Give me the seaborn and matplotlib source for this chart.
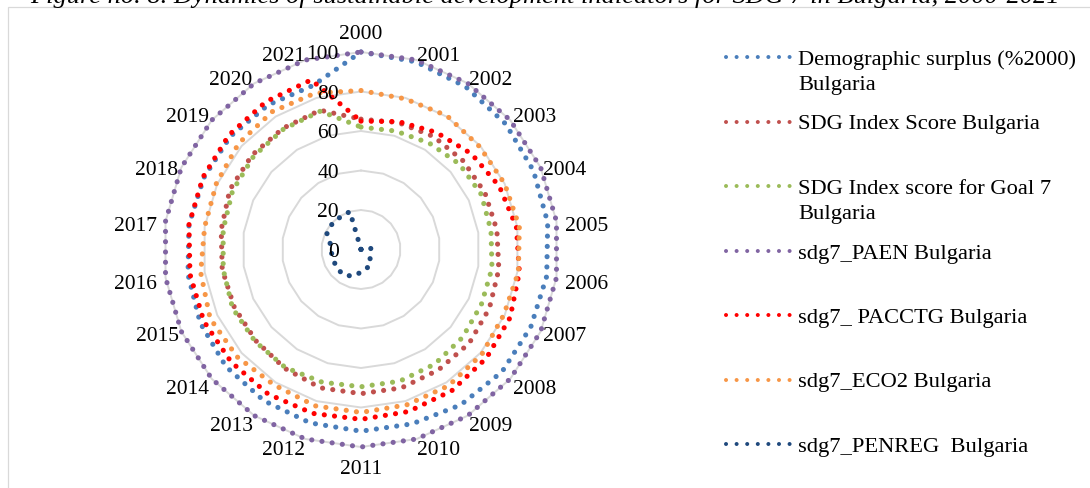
import numpy as np
import pandas as pd
import matplotlib
matplotlib.use("Agg")
import matplotlib.pyplot as plt
from matplotlib.lines import Line2D
from matplotlib.patches import Rectangle
from matplotlib.transforms import offset_copy
import seaborn as sns

# ---- data -------------------------------------------------------------
years = [2000, 2001, 2002, 2003, 2004, 2005, 2006, 2007, 2008, 2009, 2010,
         2011, 2012, 2013, 2014, 2015, 2016, 2017, 2018, 2019, 2020, 2021]

demographic_surplus = [100, 99, 98, 97, 96, 95.5, 95, 94.5, 94.5, 93.5, 92,
                       92, 91.5, 91, 90.5, 89.5, 88.5, 88, 87.5, 87.5, 87, 86.5]
sdg_index_score = [66, 67, 68, 68.5, 69, 69.5, 70.5, 71.5, 72.5, 72.5, 73,
                   73, 73, 71.5, 70.5, 70.5, 71, 71.5, 73, 73, 73, 73.5]
sdg_goal7_score = [62, 62.5, 64, 66, 67, 66.5, 67, 67, 68, 69, 69.5,
                   69.5, 70, 71, 71, 71.5, 70.5, 70.5, 71.5, 72, 72.5, 73]
sdg7_paen = [100, 100, 100, 100, 100, 100, 100, 100, 100, 100, 100,
             100, 100, 100, 100, 100, 100, 100, 100, 100, 100, 100]
sdg7_pacctg = [65, 67.5, 70.5, 74, 77, 79.5, 81, 83, 84, 85, 85.5,
               86, 86.5, 87, 87, 87.5, 87.5, 88, 88, 88.5, 89, 89.5]
sdg7_eco2 = [80.5, 79.5, 80.5, 79.5, 80, 81, 80.5, 79.5, 81, 82, 82,
             82.5, 82.5, 81.5, 83, 84, 82, 80, 80.5, 82, 83, 82.5]
sdg7_penreg = [0, 0, 0, 0, 0, 5, 5, 5, 6, 9, 10,
               11.5, 14, 15.5, 15.5, 15, 15, 15.5, 19, 19.5, 19.5, 20]

series_labels = [
    "Demographic surplus (%2000)\nBulgaria",
    "SDG Index Score Bulgaria",
    "SDG Index score for Goal 7\nBulgaria",
    "sdg7_PAEN Bulgaria",
    "sdg7_ PACCTG Bulgaria",
    "sdg7_ECO2 Bulgaria",
    "sdg7_PENREG  Bulgaria",
]
series_values = [demographic_surplus, sdg_index_score, sdg_goal7_score,
                 sdg7_paen, sdg7_pacctg, sdg7_eco2, sdg7_penreg]
series_colors = ["#4A7EBB", "#C0504D", "#9BBB59", "#8064A2",
                 "#FF0000", "#F79646", "#1F497D"]

radial_ticks = [0, 20, 40, 60, 80, 100]
title = ("Figure no. 8. Dynamics of sustainable development indicators "
         "for SDG 7 in Bulgaria, 2000-2021")

# ---- style ------------------------------------------------------------
sns.set_theme(style="white")
plt.rcParams["font.family"] = ["Liberation Serif", "DejaVu Serif"]
plt.rcParams["text.color"] = "black"

W, H = 1090, 489
fig = plt.figure(figsize=(W / 100, H / 100), dpi=100)
fig.patch.set_facecolor("white")

cx, cy, R = 361, 250.5, 197.5
ax = fig.add_axes([(cx - R) / W, (H - cy - R) / H, 2 * R / W, 2 * R / H],
                  projection="polar")
ax.set_theta_zero_location("N")
ax.set_theta_direction(-1)
ax.set_facecolor("none")

n = len(years)
theta = np.linspace(0, 2 * np.pi, n, endpoint=False)
theta_closed = np.append(theta, 2 * np.pi)

# polygonal grid rings
for lv in radial_ticks[1:]:
    ax.plot(theta_closed, np.full(n + 1, lv), color="#D9D9D9", lw=1.4,
            zorder=1, clip_on=False)

# long-form table of all series, each closed back to its first year
frames = []
for lab, vals in zip(series_labels, series_values):
    v = list(vals) + [vals[0]]
    frames.append(pd.DataFrame({"theta": theta_closed, "value": v,
                                "series": lab, "step": np.arange(n + 1)}))
df = pd.concat(frames, ignore_index=True)

dot_style = (0, (0.01, 1.99))
sns.lineplot(data=df, x="theta", y="value", hue="series",
             hue_order=series_labels,
             palette=dict(zip(series_labels, series_colors)),
             sort=False, estimator=None, legend=False, ax=ax,
             linewidth=3.7, linestyle=dot_style, dash_capstyle="round",
             zorder=3)
for ln in ax.lines:
    ln.set_clip_on(False)

ax.set_ylim(0, 100)
ax.set_xticks([])
ax.set_yticks([])
ax.grid(False)
ax.spines["polar"].set_visible(False)
ax.set_xlabel("")
ax.set_ylabel("")

fs = 15.5
# year labels round the rim
for th, yr in zip(theta, years):
    ux, uy = np.sin(th), np.cos(th)
    if abs(ux) < 0.15:
        ha = "center"
        va = "bottom" if uy > 0 else "top"
        g, dy = 12, (-3 if uy > 0 else 0)
    elif abs(ux) > 0.95:
        ha, va, g, dy = ("left" if ux > 0 else "right"), "center", 9, -5
    else:
        ha = "left" if ux > 0 else "right"
        if uy > 0.5:
            va, dy = "bottom", -8
        elif uy < -0.5:
            va, dy = "top", 2
        else:
            va, dy = "center", -3
        g = 3
    tr = offset_copy(ax.transData, fig=fig, x=g * ux, y=g * uy + dy,
                     units="dots")
    ax.text(th, 100, str(yr), transform=tr, ha=ha, va=va, fontsize=fs,
            clip_on=False)

# radial value labels along the vertical axis
tr_r = offset_copy(ax.transData, fig=fig, x=-22, y=-2, units="dots")
for lv in radial_ticks:
    ax.text(0, lv, str(lv), transform=tr_r, ha="right", va="center",
            fontsize=fs, clip_on=False)

# legend on the right: handle beside the first line of each label
leg_fs = 16.2
leg_x0, leg_x1, txt_x = 726, 790, 798
row0, row_step, line_step = 58, 64.5, 25
for k, (lab, col) in enumerate(zip(series_labels, series_colors)):
    y_px = row0 + k * row_step
    yy = 1 - y_px / H
    fig.add_artist(Line2D([leg_x0 / W, leg_x1 / W], [yy, yy],
                          transform=fig.transFigure, color=col, lw=2.9,
                          linestyle=(0, (0.01, 2.62)), dash_capstyle="round"))
    for j, part in enumerate(lab.split("\n")):
        fig.text(txt_x / W, 1 - (y_px + 7 + j * line_step) / H, part,
                 ha="left", va="baseline", fontsize=leg_fs)

# title and chart-area frame
fig.text(0.5, 1 - 3.5 / H, title, ha="center", va="baseline", fontsize=19,
         style="italic")
fig.add_artist(Rectangle((8 / W, -0.1), 2, (1 - 8 / H) + 0.1,
                         transform=fig.transFigure, fill=False,
                         edgecolor="#D9D9D9", lw=0.9))

fig.savefig("out.png", dpi=100)
